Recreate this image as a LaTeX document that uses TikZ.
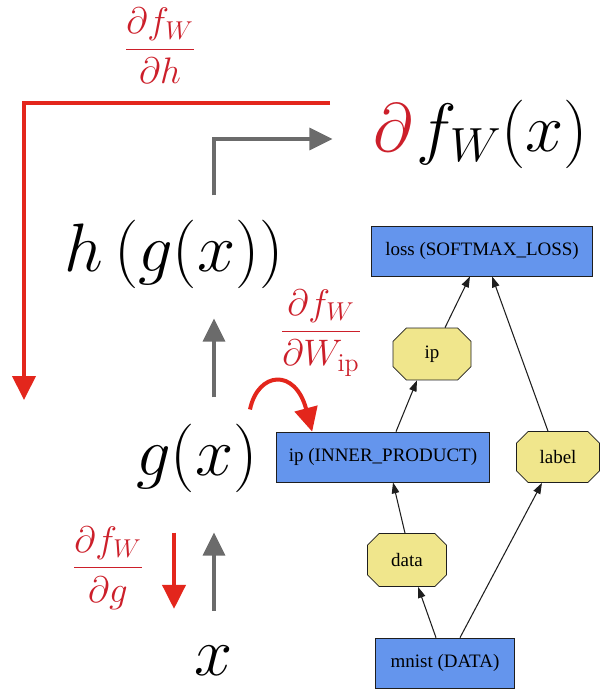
\RequirePackage{fix-cm}
\documentclass[tikz,border=0pt]{standalone}
\usepackage{fontspec}
\newfontfamily\netfont{Liberation Serif}
\usetikzlibrary{arrows.meta,calc,shapes.misc}
\definecolor{gradred}{HTML}{CC1F2A}
\definecolor{bwdred}{HTML}{E3261C}
\definecolor{fwdgray}{HTML}{6B6B6B}
\definecolor{caffeblue}{HTML}{6495ED}
\definecolor{caffekhaki}{HTML}{F0E68C}
\definecolor{netink}{HTML}{1E1E1E}
\tikzset{
  big/.style={inner sep=0pt, font=\fontsize{39}{43}\selectfont},
  grad/.style={inner sep=0pt, text=gradred, font=\fontsize{21}{25}\selectfont},
  fwd/.style={-{Triangle[length=0.46cm, width=0.44cm]}, line width=0.07cm, draw=fwdgray},
  bwd/.style={-{Triangle[length=0.48cm, width=0.46cm]}, line width=0.08cm, draw=bwdred},
  layer/.style={draw=netink, fill=caffeblue, font=\netfont\fontsize{10.8}{13}\selectfont, minimum height=1cm, inner sep=0pt},
  blob/.style={chamfered rectangle, chamfered rectangle angle=45, chamfered rectangle xsep=0.26cm, draw=netink, fill=caffekhaki, font=\netfont\fontsize{10.8}{13}\selectfont, inner sep=0pt},
  edge/.style={-{Triangle[length=0.22cm, width=0.15cm]}, draw=netink, line width=0.6pt},
}
\begin{document}
\begin{tikzpicture}[x=0.02cm, y=-0.02cm]
  \useasboundingbox (0,0) rectangle (606,689);
  % forward chain
  \node[big] (xv) at (214,661) {$x$};
  \node[big] (gx) at (197,458) {$g(x)$};
  \node[big] (hg) at (174,254) {$h\left(g(x)\right)$};
  \node[big] (fw) at (481,134) {$\textcolor{gradred}{\partial}\mkern1mu f_W(x)$};
  % gradients
  \node[grad] (dh) at (160,46) {$\displaystyle\frac{\partial f_W}{\partial h}$};
  \node[grad] (dwip) at (321,333) {$\displaystyle\frac{\partial f_W}{\partial W_{\mathrm{ip}}}$};
  \node[grad] (dg) at (108,568) {$\displaystyle\frac{\partial f_W}{\partial g}$};
  % caffe net
  \node[layer, minimum width=4.42cm] (loss) at (482,251) {loss (SOFTMAX\_LOSS)};
  \node[blob, minimum width=1.56cm, minimum height=1.04cm] (ipb) at (432,354) {ip};
  \node[layer, minimum width=4.26cm] (ipl) at (383,457) {ip (INNER\_PRODUCT)};
  \node[blob, minimum width=1.66cm, minimum height=1.02cm] (lbl) at (558,457) {label};
  \node[blob, minimum width=1.58cm, minimum height=1.06cm] (data) at (407,560) {data};
  \node[layer, minimum width=2.78cm] (mnist) at (445,663) {mnist (DATA)};
  \draw[edge] ($(mnist.north)+(-9,0)$) -- ($(data.south)+(11,0)$);
  \draw[edge] ($(mnist.north)+(15,0)$) -- ($(lbl.south)+(-16,0)$);
  \draw[edge] ($(data.north)+(-2,0)$) -- ($(ipl.south)+(10,0)$);
  \draw[edge] ($(ipl.north)+(13,0)$) -- ($(ipb.south)+(-15,0)$);
  \draw[edge] ($(ipb.north)+(13,0)$) -- ($(loss.south)+(-12,0)$);
  \draw[edge] ($(lbl.north)+(-10,0)$) -- ($(loss.south)+(10,0)$);
  % forward arrows
  \draw[fwd] ($(xv.north)+(0,-35)$) -- ($(xv.north |- gx.south)+(0,40)$);
  \draw[fwd] ($(xv.north |- gx.north)+(0,-26)$) -- ($(xv.north |- hg.south)+(0,30)$);
  \draw[fwd] ($(xv.north |- hg.north)+(0,-24)$) |- ($(fw.west)+(-41,5)$);
  % backward arrows
  \coordinate (btop) at (330,103);
  \coordinate (bleft) at (24,400);
  \draw[bwd] (btop) -| (bleft);
  \draw[bwd] ($(xv.north |- gx.south)+(-40,40)$) -- ($(xv.north)+(-40,-37)$);
  \draw[bwd] ($(gx.north east)+(-8,-14)$) .. controls +(8,-38) and +(-17,-64) .. ($(ipl.north west)+(36,0)$);
\end{tikzpicture}
\end{document}
